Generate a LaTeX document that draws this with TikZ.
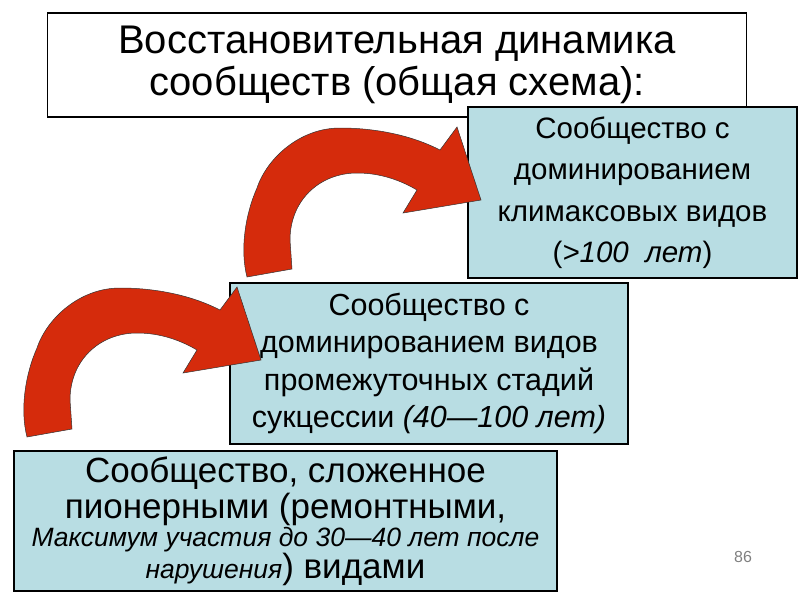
\documentclass[tikz,border=0pt]{standalone}
\usepackage{fontspec}
\setmainfont{Liberation Sans}
\definecolor{arrowred}{RGB}{213,43,12}
\definecolor{boxblue}{RGB}{184,221,227}

\begin{document}
\begin{tikzpicture}[x=1pt, y=-1pt,
  stagebox/.style={draw=black, line width=1.6pt, fill=boxblue, align=center, inner sep=0pt},
  bentarrow/.style={fill=arrowred, draw=black!80, line width=0.5pt}]
  \useasboundingbox (0,0) rectangle (800,600);
  % title
  \node[draw=black, line width=1.2pt, minimum width=699pt, minimum height=104pt,
    align=center, font=\fontsize{40}{42}\selectfont] (title) at (397,65)
    {Восстановительная динамика\\сообществ (общая схема):};
  % stages
  \node[stagebox, minimum width=329pt, minimum height=171pt,
    font=\fontsize{29.5}{41.5}\selectfont] (climax) at (632.5,192.5)
    {Сообщество с\\доминированием\\климаксовых видов\\(\textit{>100\ \ лет})};
  \node[stagebox, minimum width=398pt, minimum height=161pt,
    font=\fontsize{30.5}{37.5}\selectfont] (middle) at (429,363.5)
    {Сообщество с\\доминированием видов\\промежуточных стадий\\сукцессии \textit{(40—100 лет)}};
  \node[stagebox, minimum width=543pt, minimum height=140pt,
    font=\fontsize{35}{32}\selectfont] (pioneer) at (285.5,521)
    {Сообщество, сложенное\\[3pt]пионерными (ремонтными,\\[-4pt]
     {\fontsize{26.5}{25}\selectfont\itshape Максимум участия до 30—40 лет после}\\[0pt]
     {\fontsize{26.5}{25}\selectfont\itshape нарушения}) видами};
  \node[text=gray, font=\fontsize{16}{16}\selectfont] (pagenum) at (743,557) {86};
  % curved arrows
  \foreach \dx/\dy in {0/0,220/-160}
    \draw[bentarrow, shift={(\dx,\dy)}] (27,437)
      .. controls (20,410) and (25,375) .. (37,348)
      .. controls (47,318) and (80,288) .. (120,288)
      .. controls (160,288) and (195,297) .. (220,310)
      -- (237,287) -- (261,360) -- (183,373) -- (197,350)
      .. controls (180,340) and (160,333) .. (137,333)
      .. controls (100,333) and (70,360) .. (70,400) -- (72,429) -- cycle;
\end{tikzpicture}
\end{document}
